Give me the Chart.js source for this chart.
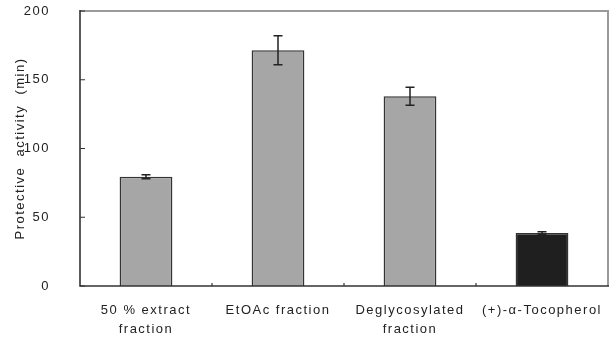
<!DOCTYPE html>
<html>
<head>
<meta charset="utf-8">
<script src="https://cdn.jsdelivr.net/npm/chart.js@4/dist/chart.umd.min.js"></script>
<style>
  html, body { margin: 0; padding: 0; background: #fff; }
  #wrap { width: 614px; height: 338px; }
</style>
</head>
<body>
<div id="wrap"><canvas id="c" width="614" height="338"></canvas></div>
<script>
// Sample groups, mean protective activity (min) and standard deviation
const categories = [['50 % extract', 'fraction'], 'EtOAc fraction', ['Deglycosylated', 'fraction'], '(+)-α-Tocopherol'];
const activity = [79.5, 171.5, 138, 38.5];
const activityError = [1.5, 10.5, 6.5, 1];
const barColors = ['#a6a6a6', '#a6a6a6', '#a6a6a6', '#1f1f1f'];
const yTickValues = [0, 50, 100, 150, 200];

const FONT = { family: '"Liberation Sans", Arial, sans-serif', size: 13 };
const INK = '#222';
const MARGIN = { left: 80, top: 11, right: 6, bottom: 52 };

// Wider tracking for every text item on the canvas
const tracking = {
  id: 'tracking',
  beforeLayout(chart) { chart.ctx.letterSpacing = '1.5px'; },
  beforeDraw(chart) { chart.ctx.letterSpacing = '1.5px'; }
};

// Pin the plot area to fixed margins after the automatic layout pass
const plotBox = {
  id: 'plotBox',
  afterLayout(chart) {
    const left = MARGIN.left, top = MARGIN.top;
    const right = chart.width - MARGIN.right, bottom = chart.height - MARGIN.bottom;
    Object.assign(chart.chartArea, { left, top, right, bottom, width: right - left, height: bottom - top });
    const { x, y } = chart.scales;
    Object.assign(x, { left, right, width: right - left, top: bottom, bottom: chart.height, height: chart.height - bottom });
    Object.assign(y, { left: 0, right: left, width: left, top, bottom, height: bottom - top });
    x.configure();
    y.configure();
  }
};

// Plot frame: dark left/bottom axes, grey top/right border, inward tick marks
const frame = {
  id: 'frame',
  afterDatasetsDraw(chart) {
    const { ctx, chartArea: a, scales: { x, y } } = chart;
    ctx.save();
    ctx.lineCap = 'butt';
    ctx.strokeStyle = '#9a9a9a';
    ctx.lineWidth = 2;
    ctx.beginPath();
    ctx.moveTo(a.left, a.top);
    ctx.lineTo(a.right, a.top);
    ctx.lineTo(a.right, a.bottom);
    ctx.stroke();

    ctx.strokeStyle = '#333';
    ctx.lineWidth = 1.6;
    ctx.beginPath();
    ctx.moveTo(a.left, a.top - 1);
    ctx.lineTo(a.left, a.bottom);
    ctx.lineTo(a.right + 1, a.bottom);
    ctx.stroke();

    ctx.lineWidth = 1.2;
    ctx.beginPath();
    yTickValues.forEach(v => {
      const py = y.getPixelForValue(v);
      ctx.moveTo(a.left, py);
      ctx.lineTo(a.left + 5, py);
    });
    const half = (x.getPixelForTick(1) - x.getPixelForTick(0)) / 2;
    for (let i = 0; i < categories.length - 1; i++) {
      const px = x.getPixelForTick(i) + half;
      ctx.moveTo(px, a.bottom);
      ctx.lineTo(px, a.bottom - 3);
    }
    ctx.stroke();
    ctx.restore();
  }
};

// Standard deviation whiskers on each bar
const errorBars = {
  id: 'errorBars',
  afterDatasetsDraw(chart) {
    const { ctx, scales: { y } } = chart;
    const meta = chart.getDatasetMeta(0);
    ctx.save();
    ctx.strokeStyle = INK;
    ctx.lineWidth = 1.5;
    meta.data.forEach((bar, i) => {
      const hi = y.getPixelForValue(activity[i] + activityError[i]);
      const lo = y.getPixelForValue(activity[i] - activityError[i]);
      const cx = bar.x;
      ctx.beginPath();
      ctx.moveTo(cx, hi); ctx.lineTo(cx, lo);
      ctx.moveTo(cx - 4.5, hi); ctx.lineTo(cx + 4.5, hi);
      ctx.moveTo(cx - 4.5, lo); ctx.lineTo(cx + 4.5, lo);
      ctx.stroke();
    });
    ctx.restore();
  }
};

new Chart(document.getElementById('c'), {
  type: 'bar',
  data: {
    labels: categories,
    datasets: [{
      data: activity,
      backgroundColor: barColors,
      borderColor: '#333',
      borderWidth: 1.5,
      categoryPercentage: 1,
      barPercentage: 0.4
    }]
  },
  options: {
    responsive: false,
    devicePixelRatio: 1,
    animation: false,
    layout: { padding: { top: 11, right: 6, left: 0, bottom: 0 } },
    plugins: { legend: { display: false }, tooltip: { enabled: false } },
    scales: {
      x: {
        grid: { display: false },
        border: { display: false },
        ticks: { font: { ...FONT, lineHeight: 1.45 }, color: INK, padding: 7, maxRotation: 0, autoSkip: false }
      },
      y: {
        min: 0,
        max: 200,
        grid: { display: false },
        border: { display: false },
        afterBuildTicks(s) { s.ticks = yTickValues.map(v => ({ value: v })); },
        ticks: { font: FONT, color: INK, padding: 22 },
        title: {
          display: true,
          text: 'Protective  activity  (min)',
          font: FONT,
          color: INK,
          padding: { top: 13, bottom: 0 }
        }
      }
    }
  },
  plugins: [tracking, plotBox, errorBars, frame]
});
</script>
</body>
</html>
